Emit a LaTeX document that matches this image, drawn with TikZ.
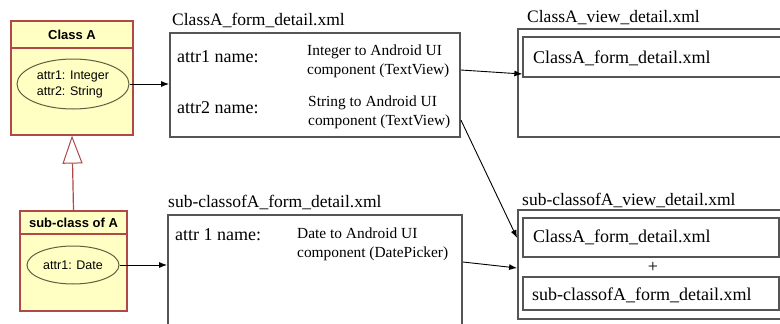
\documentclass[tikz,border=0pt]{standalone}
\usepackage{fontspec}
\setmainfont{Liberation Serif}
\newfontfamily\umlfont{Liberation Sans}
\usetikzlibrary{shapes.geometric,arrows.meta}
\definecolor{umlfill}{RGB}{255,255,196}
\definecolor{umlline}{RGB}{176,72,72}
\definecolor{ellline}{RGB}{95,95,65}
\definecolor{boxline}{RGB}{85,85,85}
\tikzset{
  umlbox/.style={draw=umlline, fill=umlfill, line width=1.2pt, rectangle, inner sep=0pt},
  attrell/.style={draw=ellline, line width=1pt, ellipse, inner sep=0pt},
  formbox/.style={draw=boxline, line width=1.8pt, rectangle, inner sep=0pt},
  innerbox/.style={draw=boxline, line width=1.3pt, rectangle, inner sep=0pt},
  title/.style={anchor=base west, inner sep=0pt, font=\fontsize{17.5}{19}\selectfont},
  big/.style={anchor=base west, inner sep=0pt, font=\fontsize{18}{20}\selectfont},
  small/.style={anchor=base west, inner sep=0pt, align=left, font=\fontsize{15.4}{19}\selectfont},
  umltxt/.style={inner sep=0pt, align=left, font=\umlfont\fontsize{12.5}{16}\selectfont},
  umlhead/.style={inner sep=0pt, font=\umlfont\bfseries\fontsize{13}{15}\selectfont},
  conn/.style={draw=black, line width=0.9pt, -{Latex[length=8pt,width=6pt]}},
}
\begin{document}
\begin{tikzpicture}[x=1pt,y=-1pt]
\useasboundingbox (0,0) rectangle (780,324);
\clip (0,0) rectangle (780,324);
% UML class A
\node[umlbox, minimum width=122pt, minimum height=114pt] (clsA) at (72,78) {};
\draw[umlline, line width=1.2pt] (11,48) -- (133,48);
\node[umlhead] (clsAname) at (72,35) {Class A};
\node[attrell, minimum width=112pt, minimum height=50pt] (eA) at (73,84) {};
\node[umltxt] (eAtxt) at (73,84) {attr1: Integer\\attr2: String};
% UML sub-class
\node[umlbox, minimum width=107pt, minimum height=100pt] (clsS) at (73.5,261) {};
\draw[umlline, line width=1.2pt] (20,234) -- (127,234);
\node[umlhead] (clsSname) at (73.5,223) {sub-class of A};
\node[attrell, minimum width=92pt, minimum height=38pt] (eS) at (73,265) {};
\node[umltxt] (eStxt) at (73,265) {attr1: Date};
% inheritance
\draw[umlline, line width=1.2pt, -{Triangle[open, length=28pt, width=20pt, fill=white, line width=1pt]}] (clsS.north) -- (clsA.south);
% form boxes
\node[formbox, minimum width=290pt, minimum height=104pt] (fA) at (315,85) {};
\node[title] (fAt) at (172,26) {ClassA\_form\_detail.xml};
\node[big] (fA1) at (177,62) {attr1 name:};
\node[small] (fA1d) at (307,74) {Integer to Android UI\\component (TextView)};
\node[big] (fA2) at (177,113) {attr2 name:};
\node[small] (fA2d) at (308,125) {String to Android UI\\component (TextView)};
\node[formbox, minimum width=294pt, minimum height=120pt] (fS) at (315,275) {};
\node[title] (fSt) at (168,207) {sub-classofA\_form\_detail.xml};
\node[big] (fS1) at (175,240) {attr 1 name:};
\node[small] (fS1d) at (297,257) {Date to Android UI\\component (DatePicker)};
% view boxes
\node[formbox, minimum width=280pt, minimum height=108pt] (vA) at (658,83) {};
\node[title] (vAt) at (527,23) {ClassA\_view\_detail.xml};
\node[innerbox, minimum width=272pt, minimum height=40pt] (vAi) at (659,57) {};
\node[big] (vAit) at (533,63) {ClassA\_form\_detail.xml};
\node[formbox, minimum width=280pt, minimum height=109pt] (vS) at (658,264.5) {};
\node[title] (vSt) at (522,205) {sub-classofA\_view\_detail.xml};
\node[innerbox, minimum width=256pt, minimum height=39pt] (vS1) at (651,237.5) {};
\node[big] (vS1t) at (533,242) {ClassA\_form\_detail.xml};
\node[inner sep=0pt, font=\fontsize{18}{20}\selectfont] (plus) at (653,267) {+};
\node[innerbox, minimum width=256pt, minimum height=33pt] (vS2) at (651,293.5) {};
\node[big] (vS2t) at (532,300) {sub-classofA\_form\_detail.xml};
% connectors
\draw[conn] (eA.east) -- (fA.west |- eA.east);
\draw[conn] (eS.east) -- (fS.west |- eS.east);
\draw[conn] ([yshift=15pt]fA.east) -- ([yshift=-17pt]vAi.west);
\draw[conn] ([yshift=-35pt]fA.east) -- ([yshift=26.5pt]vS.west);
\draw[conn] ([yshift=13pt]fS.east) -- ([yshift=-3.5pt]vS.west);
\end{tikzpicture}
\end{document}
